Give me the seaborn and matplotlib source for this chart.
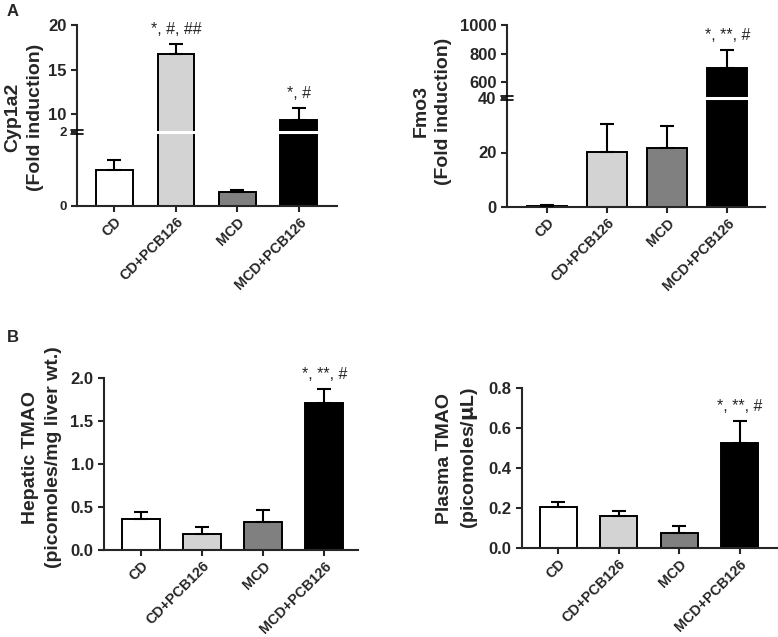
import numpy as np
import pandas as pd
import matplotlib
matplotlib.use("Agg")
import matplotlib.pyplot as plt
import seaborn as sns

# ---------------- data ----------------
groups = ["CD", "CD+PCB126", "MCD", "MCD+PCB126"]
colors = ["#ffffff", "#d3d3d3", "#808080", "#000000"]

cyp1a2_mean = [0.97, 16.7, 0.38, 9.3]
cyp1a2_err = [0.27, 1.2, 0.05, 1.4]
cyp1a2_sig = ["", "*, #, ##", "", "*, #"]

fmo3_mean = [0.5, 20.3, 21.8, 700]
fmo3_err = [0.4, 10.2, 8.0, 125]
fmo3_sig = ["", "", "", "*, **, #"]

hep_mean = [0.36, 0.19, 0.33, 1.71]
hep_err = [0.08, 0.08, 0.13, 0.16]
hep_sig = ["", "", "", "*, **, #"]

pla_mean = [0.205, 0.158, 0.073, 0.525]
pla_err = [0.025, 0.025, 0.037, 0.11]
pla_sig = ["", "", "", "*, **, #"]

# ---------------- style ----------------
sns.set_style("ticks")
plt.rcParams["font.family"] = ["Liberation Sans", "DejaVu Sans"]
plt.rcParams["axes.linewidth"] = 1.5
plt.rcParams["xtick.major.width"] = 1.5
plt.rcParams["ytick.major.width"] = 1.5
plt.rcParams["xtick.major.size"] = 4
plt.rcParams["ytick.major.size"] = 4
plt.rcParams["xtick.major.pad"] = 2.5

W, H = 778, 637
fig = plt.figure(figsize=(W / 100, H / 100), dpi=100)

TICK_FS = 12
XT_FS = 10.3


def px_axes(x0, x1, ytop, ybot):
    return fig.add_axes([x0 / W, 1 - ybot / H, (x1 - x0) / W, (ybot - ytop) / H])


def draw_bars(ax, means, errs, sig, xlim, width, annotate=True):
    df = pd.DataFrame({"group": groups, "value": means})
    sns.barplot(data=df, x="group", y="value", hue="group", palette=colors,
                order=groups, hue_order=groups, dodge=False, legend=False,
                width=width, edgecolor="black", linewidth=1.4, ax=ax,
                errorbar=None)
    ax.errorbar(np.arange(len(groups)), means,
                yerr=[np.zeros(len(errs)), errs], fmt="none",
                ecolor="black", elinewidth=1.5, capsize=5, capthick=1.5,
                zorder=5)
    if annotate:
        for i, (m, e, s) in enumerate(zip(means, errs, sig)):
            if s:
                ax.annotate(s, (i, m + e), xytext=(0, 5),
                            textcoords="offset points", ha="center",
                            va="bottom", fontsize=11.5)
    ax.set_xlim(*xlim)
    ax.set_xlabel("")
    ax.set_ylabel("")


def style_xticks(ax):
    ax.set_xticks(range(len(groups)))
    ax.set_xticklabels(groups, rotation=45, ha="right",
                       rotation_mode="anchor", fontsize=XT_FS,
                       fontweight="bold")


def set_yt(ax, ticks, labels, fs=TICK_FS):
    ax.set_yticks(ticks)
    ax.set_yticklabels(labels, fontweight="bold", fontsize=fs)


def broken(x0, x1, ytop, ybrk, ybot, low_lim, up_lim, low_ticks, up_ticks,
           means, errs, sig, xlim, width, low_fs=TICK_FS):
    ax_up = px_axes(x0, x1, ytop, ybrk)
    ax_lo = px_axes(x0, x1, ybrk, ybot)
    draw_bars(ax_up, means, errs, sig, xlim, width, annotate=True)
    draw_bars(ax_lo, means, errs, sig, xlim, width, annotate=False)
    ax_up.set_ylim(*up_lim)
    ax_lo.set_ylim(*low_lim)
    set_yt(ax_up, up_ticks, [str(t) for t in up_ticks])
    set_yt(ax_lo, low_ticks, [str(t) for t in low_ticks], low_fs)
    sns.despine(ax=ax_up, bottom=True)
    sns.despine(ax=ax_lo)
    ax_up.set_xticks([])
    ax_up.tick_params(axis="x", length=0)
    style_xticks(ax_lo)
    # white gap across the bars
    ax_lo.axhline(low_lim[1], xmin=0.01, xmax=1.0, color="white", lw=2.2,
                  zorder=10, clip_on=False)
    # break marks ("=") on the y axis
    hgt = ybot - ybrk
    wid = x1 - x0
    for dpx in (-2.2, 2.2):
        ax_lo.plot([-6 / wid, 6 / wid], [1 + dpx / hgt] * 2,
                   transform=ax_lo.transAxes, color="black", lw=1.2,
                   clip_on=False, zorder=11)
    return ax_up, ax_lo


# Panel A left: Cyp1a2
broken(77, 337, 25, 132, 206, (0, 2), (8, 20), [0, 2], [10, 15, 20],
       cyp1a2_mean, cyp1a2_err, cyp1a2_sig, (-0.61, 3.62), 0.6, low_fs=9.5)

# Panel A right: Fmo3
broken(507, 765, 25, 98, 207, (0, 40), (490, 1000), [0, 20, 40],
       [600, 800, 1000], fmo3_mean, fmo3_err, fmo3_sig, (-0.67, 3.63), 0.667)

# Panel B left: Hepatic TMAO
ax = px_axes(104, 358, 378, 550)
draw_bars(ax, hep_mean, hep_err, hep_sig, (-0.61, 3.55), 0.62)
ax.set_ylim(0, 2.0)
set_yt(ax, [0, 0.5, 1.0, 1.5, 2.0], ["0.0", "0.5", "1.0", "1.5", "2.0"])
sns.despine(ax=ax)
style_xticks(ax)

# Panel B right: Plasma TMAO
ax = px_axes(522, 777, 388, 548)
draw_bars(ax, pla_mean, pla_err, pla_sig, (-0.6, 3.62), 0.61)
ax.set_ylim(0, 0.8)
set_yt(ax, [0, 0.2, 0.4, 0.6, 0.8], ["0.0", "0.2", "0.4", "0.6", "0.8"])
sns.despine(ax=ax)
style_xticks(ax)

# y labels
lab_kw = dict(rotation=90, ha="center", va="center", fontsize=14,
              fontweight="bold", multialignment="center", linespacing=1.4)
fig.text(24 / W, 1 - 117 / H, "Cyp1a2\n(Fold induction)", **lab_kw)
fig.text(432 / W, 1 - 111 / H, "Fmo3\n(Fold induction)", **lab_kw)
fig.text(42 / W, 1 - 457 / H, "Hepatic TMAO\n(picomoles/mg liver wt.)", **lab_kw)
fig.text(458 / W, 1 - 458 / H, "Plasma TMAO\n(picomoles/$\\mathbf{\\mu}$L)", **lab_kw)

# panel letters
fig.text(7 / W, 1 - 12 / H, "A", fontsize=12, fontweight="bold",
         ha="left", va="center")
fig.text(7 / W, 1 - 337 / H, "B", fontsize=12, fontweight="bold",
         ha="left", va="center")

fig.savefig("out.png", dpi=100)
